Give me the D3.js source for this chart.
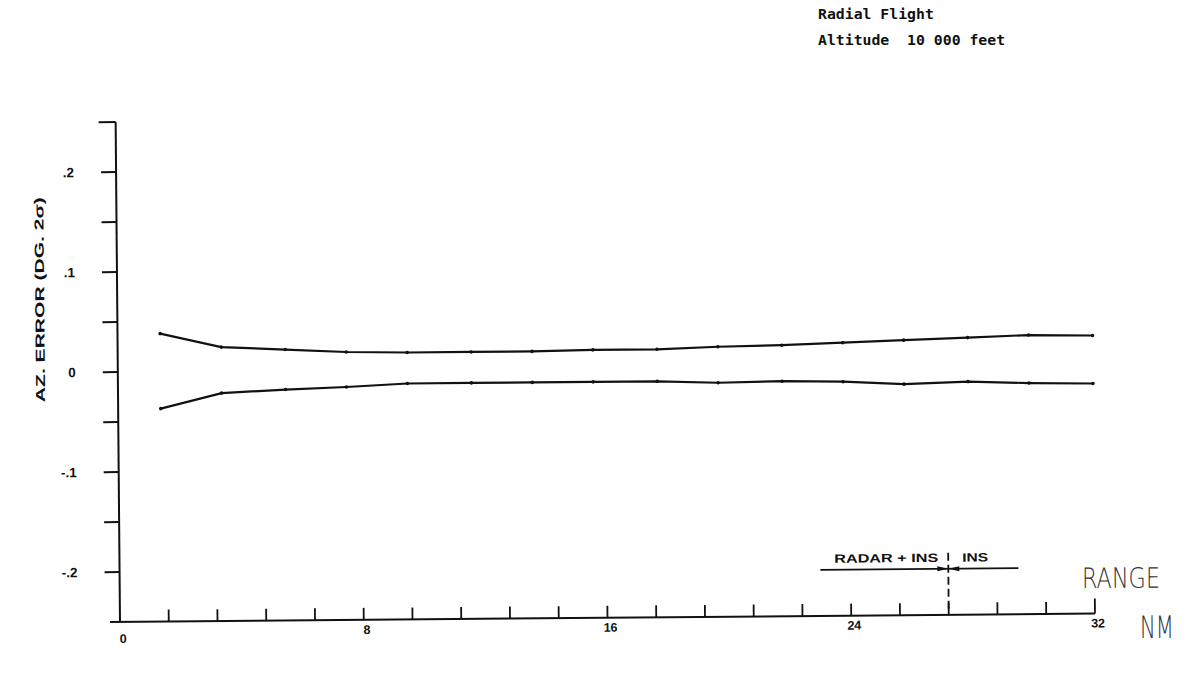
<!DOCTYPE html>
<html>
<head>
<meta charset="utf-8">
<script src="https://cdn.jsdelivr.net/npm/d3@7"></script>
<style>
body { margin:0; background:white; }
.lbl { font-family: "Liberation Sans", Arial, sans-serif; font-weight: bold; font-size: 12px; fill: #111; }
.title { font-family: "DejaVu Sans Mono", monospace; font-weight: bold; font-size: 14.8px; fill: #111; }
.thin { font-family: "DejaVu Sans", sans-serif; font-weight: 200; fill: #333; }
</style>
</head>
<body>
<div id="chart"></div>
<script>
let titleLines = ["Radial Flight", "Altitude  10 000 feet"];
let yTitle = "AZ. ERROR (DG. 2σ)";

// range (NM) and 2-sigma azimuth error bounds (deg)
let rangeNM  = [1.4, 3.4, 5.5, 7.5, 9.5, 11.6, 13.6, 15.6, 17.7, 19.7, 21.8, 23.8, 25.8, 27.9, 29.9, 32];
let upperErr = [0.038, 0.024, 0.021, 0.018, 0.017, 0.017, 0.017, 0.018, 0.018, 0.020, 0.021, 0.023, 0.025, 0.027, 0.029, 0.028];
let lowerErr = [-0.037, -0.022, -0.019, -0.017, -0.014, -0.014, -0.014, -0.014, -0.014, -0.016, -0.015, -0.016, -0.019, -0.017, -0.019, -0.020];

let xTicks = [0, 1.6, 3.2, 4.8, 6.4, 8, 9.6, 11.2, 12.8, 14.4, 16, 17.6, 19.2, 20.8, 22.4, 24, 25.6, 27.2, 28.8, 30.4, 32];
let xLabels = [0, 8, 16, 24, 32];
let yTicks = [-0.25, -0.2, -0.15, -0.1, -0.05, 0, 0.05, 0.1, 0.15, 0.2, 0.25];
let yLabelValues = [0.2, 0.1, 0, -0.1, -0.2];
let yLabelText = [".2", ".1", "0", "-.1", "-.2"];

// RADAR + INS / INS switch-over annotation
let splitNM = 27.2;
let annotSpanNM = [23.0, 29.5];
let annotLevel = -0.204;
let annotText = ["RADAR + INS", "INS"];

let x = d3.scaleLinear().domain([0, 32]).range([120, 1095]);
let y = d3.scaleLinear().domain([-0.25, 0.25]).range([622, 122]);

let svg = d3.select("#chart").append("svg")
    .attr("width", 1191)
    .attr("height", 678)
    .attr("style", "background-color:white");

svg.selectAll("text.title")
    .data(titleLines)
    .enter().append("text")
      .attr("class", "title")
      .attr("x", 818)
      .attr("y", function(d,i) { return 19 + i*26; })
      .attr("xml:space", "preserve")
      .text(function(d) { return d; });

// the scan is slightly tilted, so the plot frame is rotated a little
let g = svg.append("g")
    .attr("transform", "rotate(-0.5," + x(0) + "," + y(-0.25) + ")");

let axisStyle = "stroke:#111; stroke-width:2; fill:none";

g.append("line")
    .attr("x1", x(0)).attr("x2", x(0))
    .attr("y1", y(0.25)).attr("y2", y(-0.25))
    .attr("style", axisStyle);

g.append("line")
    .attr("x1", x(0) - 10).attr("x2", x(32))
    .attr("y1", y(-0.25)).attr("y2", y(-0.25))
    .attr("style", axisStyle);

g.selectAll("line.yt")
    .data(yTicks.filter(function(d) { return d > -0.25; }))
    .enter().append("line")
      .attr("x1", function(d) { return d == 0.25 ? x(0) - 17 : x(0) - 15; })
      .attr("x2", x(0))
      .attr("y1", function(d) { return y(d); })
      .attr("y2", function(d) { return y(d); })
      .attr("style", axisStyle);

g.selectAll("line.xt")
    .data(xTicks.slice(1))
    .enter().append("line")
      .attr("x1", function(d) { return x(d); })
      .attr("x2", function(d) { return x(d); })
      .attr("y1", y(-0.25))
      .attr("y2", function(d) { return d == 32 ? y(-0.25) - 15 : y(-0.25) - 12; })
      .attr("style", "stroke:#111; stroke-width:1.8");

g.selectAll("text.yl")
    .data(yLabelValues)
    .enter().append("text")
      .attr("class", "lbl")
      .attr("x", 78)
      .attr("y", function(d) { return y(d); })
      .attr("dy", "0.36em")
      .attr("text-anchor", "end")
      .attr("style", "font-size:13.5px")
      .text(function(d,i) { return yLabelText[i]; });

g.selectAll("text.xl")
    .data(xLabels)
    .enter().append("text")
      .attr("class", "lbl")
      .attr("x", function(d) { return x(d) + 3; })
      .attr("y", function(d) { return d == 0 ? y(-0.25) + 21 : y(-0.25) + 14; })
      .attr("text-anchor", "middle")
      .attr("style", "font-size:12.5px")
      .text(function(d) { return d; });

g.append("text")
    .attr("class", "lbl")
    .attr("transform", "translate(47," + y(0.073) + ") rotate(-90)")
    .attr("text-anchor", "middle")
    .attr("textLength", 205)
    .attr("lengthAdjust", "spacingAndGlyphs")
    .attr("style", "font-size:13px")
    .text(yTitle);

let line = d3.line()
    .x(function(d) { return x(d[0]); })
    .y(function(d) { return y(d[1]); });

let bounds = [d3.zip(rangeNM, upperErr), d3.zip(rangeNM, lowerErr)];

g.selectAll("path.err")
    .data(bounds)
    .enter().append("path")
      .attr("d", line)
      .attr("style", "stroke:#111; stroke-width:2.2; fill:none");

g.selectAll("circle")
    .data(bounds[0].concat(bounds[1]))
    .enter().append("circle")
      .attr("cx", function(d) { return x(d[0]); })
      .attr("cy", function(d) { return y(d[1]); })
      .attr("r", 1.8)
      .attr("fill", "#111");

// annotation
g.append("line")
    .attr("x1", x(annotSpanNM[0])).attr("x2", x(annotSpanNM[1]))
    .attr("y1", y(annotLevel)).attr("y2", y(annotLevel))
    .attr("style", "stroke:#111; stroke-width:1.8");

g.append("line")
    .attr("x1", x(splitNM)).attr("x2", x(splitNM))
    .attr("y1", y(annotLevel) - 16).attr("y2", y(-0.25) - 2)
    .attr("style", "stroke:#111; stroke-width:1.8; stroke-dasharray:8,4");

g.append("path")
    .attr("d", "M" + (x(splitNM) - 11) + "," + (y(annotLevel) - 2.5) + " L" + x(splitNM) + "," + y(annotLevel) +
               " L" + (x(splitNM) - 11) + "," + (y(annotLevel) + 2.5) + " z" +
               "M" + (x(splitNM) + 11) + "," + (y(annotLevel) - 2.5) + " L" + x(splitNM) + "," + y(annotLevel) +
               " L" + (x(splitNM) + 11) + "," + (y(annotLevel) + 2.5) + " z")
    .attr("fill", "#111");

g.append("text")
    .attr("class", "lbl")
    .attr("x", x(splitNM) - 10)
    .attr("y", y(annotLevel) - 7)
    .attr("text-anchor", "end")
    .attr("textLength", 104)
    .attr("lengthAdjust", "spacingAndGlyphs")
    .attr("style", "font-size:12px")
    .text(annotText[0]);

g.append("text")
    .attr("class", "lbl")
    .attr("x", x(splitNM) + 14)
    .attr("y", y(annotLevel) - 7)
    .attr("textLength", 26)
    .attr("lengthAdjust", "spacingAndGlyphs")
    .attr("style", "font-size:12px")
    .text(annotText[1]);

svg.append("text")
    .attr("class", "thin")
    .attr("transform", "translate(1082,588) rotate(-0.3)")
    .attr("textLength", 78)
    .attr("lengthAdjust", "spacingAndGlyphs")
    .attr("style", "font-size:28px")
    .text("RANGE");

svg.append("text")
    .attr("class", "thin")
    .attr("transform", "translate(1140,638) rotate(-0.3)")
    .attr("textLength", 34)
    .attr("lengthAdjust", "spacingAndGlyphs")
    .attr("style", "font-size:31px")
    .text("NM");
</script>
</body>
</html>
